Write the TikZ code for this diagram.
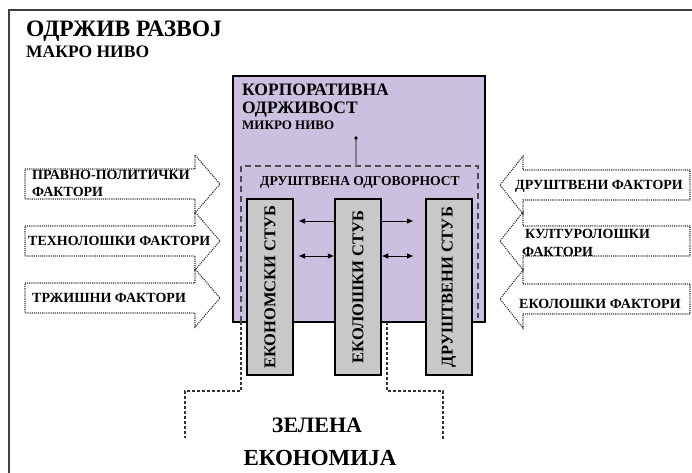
\documentclass[tikz,border=0pt]{standalone}
\usepackage{fontspec}
\setmainfont{Liberation Serif}
\usetikzlibrary{arrows.meta}
\definecolor{lila}{RGB}{203,192,224}
\definecolor{stubsiva}{RGB}{200,200,200}
\tikzset{>={Triangle[length=6pt,width=5pt]},
  natpis/.style={anchor=base west, inner sep=0pt, font=\bfseries\fontsize{14}{14}\selectfont},
  faktor/.style={densely dotted, line width=1.1pt, black!80},
  stubac/.style={draw, line width=2.5pt, fill=stubsiva, rotate=90, minimum width=176pt, minimum height=46pt, inner sep=0pt, font=\bfseries\fontsize{16.5}{16.5}\selectfont},
  veza/.style={line width=0.8pt},
  okvir/.style={dash pattern=on 6pt off 4pt, line width=1.2pt, black!70},
  zagrada/.style={dash pattern=on 3pt off 2pt, line width=1.3pt, black!80}}

\begin{document}
\begin{tikzpicture}[x=1pt, y=-1pt]
    \useasboundingbox (0,0) rectangle (692,472);
    \clip (0,0) rectangle (692,472);
    \draw[line width=1.8pt, black!75] (9,480) |- (700,10);
    \node[natpis, font=\bfseries\fontsize{23.5}{23.5}\selectfont] (naslov) at (26,36) {ОДРЖИВ РАЗВОЈ};
    \node[natpis, font=\bfseries\fontsize{17.5}{17.5}\selectfont] (makro) at (26,57) {МАКРО НИВО};

    % korporativna odrzivost
    \draw[line width=2.5pt, fill=lila] (233,76) rectangle (485,322);
    \node[natpis, font=\bfseries\fontsize{17.5}{17.5}\selectfont] (korp) at (242,95) {КОРПОРАТИВНА};
    \node[natpis, font=\bfseries\fontsize{17.5}{17.5}\selectfont] (odrz) at (242,113) {ОДРЖИВОСТ};
    \node[natpis, font=\bfseries\fontsize{13}{13}\selectfont] (mikro) at (242,129) {МИКРО НИВО};
    \draw[okvir] (241,322) -- (241,166) -| (478,318);
    \node[natpis, anchor=base, font=\bfseries\fontsize{13.6}{13.6}\selectfont] (odgov) at (360,185) {ДРУШТВЕНА ОДГОВОРНОСТ};
    \coordinate (dtop) at (356,166);
    \coordinate (dvrh) at (356,138);
    \draw[gray, line width=1.2pt] (dtop) -- (dvrh);
    \fill (dvrh) circle (1.8pt);

    % zelena ekonomija
    \draw[zagrada] (241,322) |- (185,391) -- (185,438);
    \draw[zagrada] (387,322) |- (443,391) -- (443,440);
    \node[natpis, anchor=base, font=\bfseries\fontsize{22}{22}\selectfont] (zelena) at (317,432) {ЗЕЛЕНА};
    \node[natpis, anchor=base, font=\bfseries\fontsize{23}{23}\selectfont] (ekonomija) at (320,465) {ЕКОНОМИЈА};

    % stubovi
    \node[stubac] (ekonom) at (270,287) {ЕКОНОМСКИ СТУБ};
    \node[stubac] (ekolos) at (358,287) {ЕКОЛОШКИ СТУБ};
    \node[stubac] (drustv) at (449,287) {ДРУШТВЕНИ СТУБ};
    \coordinate (a1) at (299,221);
    \coordinate (a2) at (413,221);
    \coordinate (a3) at (299,256);
    \coordinate (a4) at (413,256);
    \draw[veza, <-] (a1) -- (ekolos.north |- a1);
    \draw[veza, ->] (ekolos.south |- a2) -- (a2);
    \draw[veza, <->] (a3) -- (ekolos.north |- a3);
    \draw[veza, <->] (ekolos.south |- a4) -- (a4);

    % faktori lijevo
    \foreach \y in {184,241,298}
        \draw[faktor] (25,\y-15) -- (195,\y-15) -- (195,\y-29) -- (220,\y) -- (195,\y+29) -- (195,\y+15) -- (25,\y+15) -- cycle;
    \node[natpis] (pravno) at (32,179) {ПРАВНО-ПОЛИТИЧКИ};
    \node[natpis] (pravnof) at (32,196) {ФАКТОРИ};
    \node[natpis] (tehno) at (28,245) {ТЕХНОЛОШКИ ФАКТОРИ};
    \node[natpis] (trzis) at (32,302) {ТРЖИШНИ ФАКТОРИ};

    % faktori desno
    \foreach \y in {185,241,299}
        \draw[faktor] (690,\y-15) -- (523,\y-15) -- (523,\y-29) -- (500,\y) -- (523,\y+29) -- (523,\y+15) -- (690,\y+15) -- cycle;
    \node[natpis] (drusf) at (515,189) {ДРУШТВЕНИ ФАКТОРИ};
    \node[natpis] (kult) at (525,238) {КУЛТУРОЛОШКИ};
    \node[natpis] (kultf) at (522,256) {ФАКТОРИ};
    \node[natpis] (ekolf) at (519,308) {ЕКОЛОШКИ ФАКТОРИ};
\end{tikzpicture}
\end{document}
